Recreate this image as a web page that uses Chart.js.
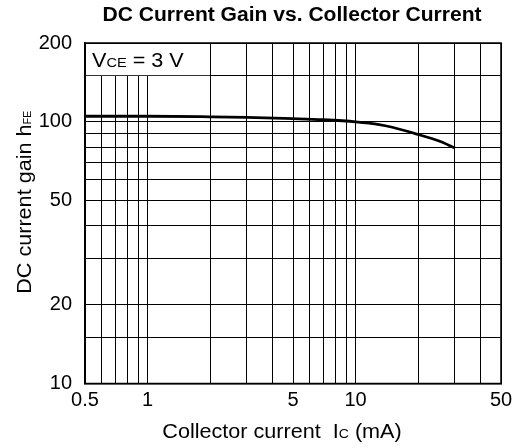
<!DOCTYPE html>
<html>
<head>
<meta charset="utf-8">
<script src="https://cdn.jsdelivr.net/npm/chart.js@4"></script>
<style>
  html, body { margin: 0; padding: 0; background: #fff; }
  #wrap { width: 518px; height: 448px; }
</style>
</head>
<body>
<div id="wrap"><canvas id="gainChart" width="518" height="448"></canvas></div>
<script>
const TITLE = "DC Current Gain vs. Collector Current";

// collector current Ic (mA) and DC current gain hFE
const CURRENT_MA = [0.5, 1, 2, 3, 5, 7, 10, 13, 15, 20, 25, 30];
const GAIN_HFE = [105, 105, 104.5, 104, 102.8, 101.8, 100, 97.6, 95.3, 89.4, 84.6, 79.5];

const X_GRID = [0.5, 0.6, 0.7, 0.8, 0.9, 1, 2, 3, 4, 5, 6, 7, 8, 9, 10, 20, 30, 40, 50];
const X_LABELS = [0.5, 1, 5, 10, 50];
const Y_GRID = [10, 15, 20, 30, 40, 50, 60, 70, 80, 90, 100, 150, 200];
const Y_LABELS = [10, 20, 50, 100, 200];

const FONT = "'Liberation Sans', Arial, sans-serif";
const STRETCH = 1.08; // the original lettering is a little wide

// text with small parts on the same baseline: parts = [[text, size, bold]]
function partsWidth(ctx, parts) {
  let w = 0;
  parts.forEach(([t, size, bold]) => {
    ctx.font = (bold ? "bold " : "") + size + "px " + FONT;
    w += ctx.measureText(t).width;
  });
  return w * STRETCH;
}

function drawParts(ctx, parts, cx, baseline) {
  const w = partsWidth(ctx, parts);
  ctx.save();
  ctx.translate(cx - w / 2, baseline);
  ctx.scale(STRETCH, 1);
  ctx.textBaseline = "alphabetic";
  ctx.textAlign = "left";
  let x = 0;
  parts.forEach(([t, size, bold]) => {
    ctx.font = (bold ? "bold " : "") + size + "px " + FONT;
    ctx.fillText(t, x, 0);
    x += ctx.measureText(t).width;
  });
  ctx.restore();
}

const decorations = {
  id: "decorations",
  beforeDatasetsDraw(chart) {
    const { ctx, chartArea, scales } = chart;
    const x2 = scales.x.getPixelForValue(2);
    const y150 = scales.y.getPixelForValue(150);
    ctx.save();
    ctx.fillStyle = "#fff";
    ctx.fillRect(chartArea.left + 1, chartArea.top + 1, x2 - chartArea.left - 1.5, y150 - chartArea.top - 1.5);
    ctx.fillStyle = "#000";
    const parts = [["V", 20], ["CE", 13.5], [" = 3 V", 20]];
    const w = partsWidth(ctx, parts);
    drawParts(ctx, parts, chartArea.left + 7 + w / 2, (chartArea.top + y150) / 2 + 7.5);
    ctx.restore();
  },
  afterDraw(chart) {
    const { ctx, chartArea } = chart;
    ctx.save();
    ctx.strokeStyle = "#000";
    ctx.lineWidth = 1.5;
    ctx.strokeRect(chartArea.left, chartArea.top, chartArea.right - chartArea.left, chartArea.bottom - chartArea.top);

    ctx.fillStyle = "#000";
    const midX = (chartArea.left + chartArea.right) / 2;
    drawParts(ctx, [[TITLE, 19.5, true]], midX - 1, 21);
    drawParts(ctx, [["Collector current  I", 20], ["C", 13], [" (mA)", 20]], midX - 11, 438);

    ctx.translate(31, (chartArea.top + chartArea.bottom) / 2 - 11);
    ctx.rotate(-Math.PI / 2);
    drawParts(ctx, [["DC current gain h", 20], ["FE", 10]], 0, 0);
    ctx.restore();
  }
};

const config = {
  type: "line",
  data: {
    datasets: [{
      data: CURRENT_MA.map((c, i) => ({ x: c, y: GAIN_HFE[i] })),
      borderColor: "#000",
      borderWidth: 2.8,
      pointRadius: 0,
      cubicInterpolationMode: "monotone",
      fill: false
    }]
  },
  options: {
    responsive: false,
    animation: false,
    layout: { padding: { top: 43, right: 17, bottom: 0, left: 0 } },
    plugins: {
      legend: { display: false },
      title: { display: false },
      tooltip: { enabled: false }
    },
    scales: {
      x: {
        type: "logarithmic",
        min: 0.5,
        max: 50,
        afterBuildTicks: s => { s.ticks = X_GRID.map(v => ({ value: v })); },
        afterFit: s => { s.height = 64.5; },
        ticks: {
          autoSkip: false,
          maxRotation: 0,
          color: "#000",
          padding: 5,
          font: { size: 20, family: FONT },
          callback: v => X_LABELS.includes(v) ? String(v) : ""
        },
        grid: { color: "#000", lineWidth: 1, drawTicks: false },
        border: { color: "#000", width: 1.5 }
      },
      y: {
        type: "logarithmic",
        min: 10,
        max: 200,
        afterBuildTicks: s => { s.ticks = Y_GRID.map(v => ({ value: v })); },
        afterFit: s => { s.width = 85; },
        ticks: {
          autoSkip: false,
          color: "#000",
          padding: 13,
          font: { size: 20, family: FONT },
          callback: v => Y_LABELS.includes(v) ? String(v) : ""
        },
        grid: { color: "#000", lineWidth: 1, drawTicks: false },
        border: { color: "#000", width: 1.5 }
      }
    }
  },
  plugins: [decorations]
};

new Chart(document.getElementById("gainChart").getContext("2d"), config);
</script>
</body>
</html>
